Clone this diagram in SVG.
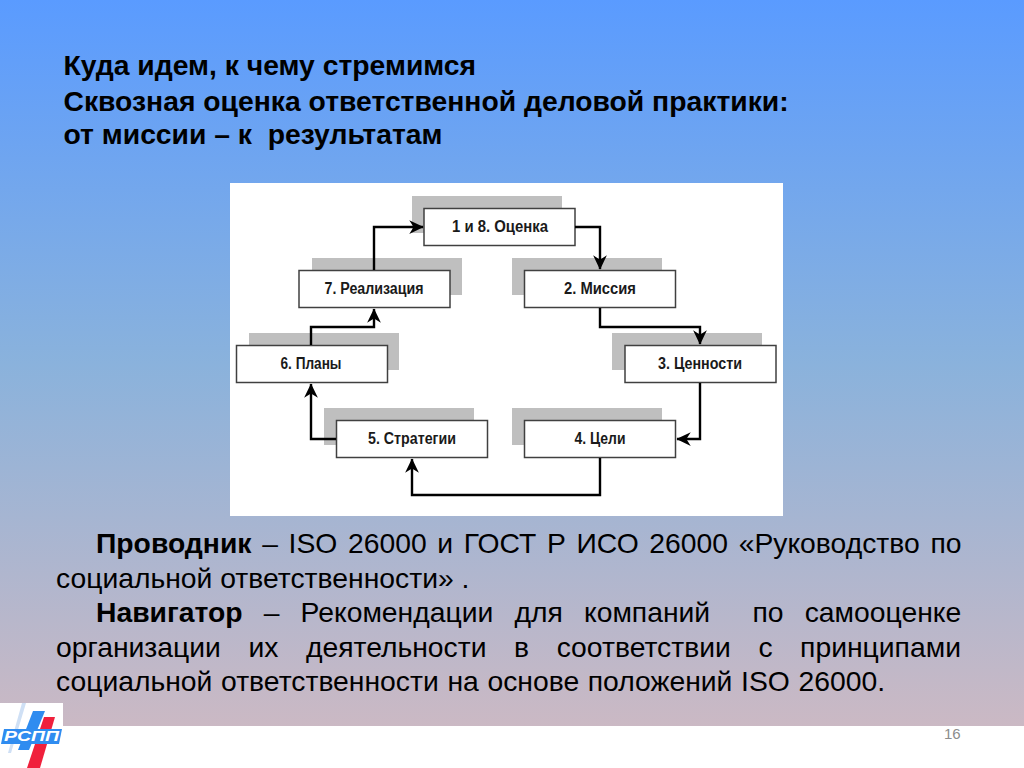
<svg xmlns="http://www.w3.org/2000/svg" width="1024" height="768" viewBox="0 0 1024 768">
<defs>
<linearGradient id="bg" x1="0" y1="0" x2="0" y2="1"><stop offset="0" stop-color="#5a9bff"/><stop offset="0.5" stop-color="#8ab2dc"/><stop offset="1" stop-color="#cbb9c4"/></linearGradient>
<marker id="arr" viewBox="0 0 12 12" refX="11" refY="6" markerWidth="15" markerHeight="15" markerUnits="userSpaceOnUse" orient="auto"><path d="M0 0.5L11.5 6L0 11.5L3.5 6Z" fill="#000"/></marker>
</defs>
<style>
.t{font-family:"Liberation Sans",Arial,sans-serif;font-size:28.3px;fill:#000}
.h{font-family:"Liberation Sans",Arial,sans-serif;font-size:28.3px;font-weight:bold;fill:#000}
.b{font-weight:bold}
.s{fill:#bfbfbf}
.n{fill:#fff;stroke:#404040;stroke-width:1.5}
.l{font-family:"Liberation Sans",Arial,sans-serif;font-size:16px;font-weight:bold;fill:#1a1a1a;text-anchor:middle}
.c{fill:none;stroke:#000;stroke-width:2.4}
</style>
<rect x="0" y="0" width="1024" height="726" fill="url(#bg)"/>
<rect x="0" y="726" width="1024" height="42" fill="#fff"/>
<g id="title">
<text class="h" x="63.500" y="75">Куда идем, к чему стремимся</text>
<text class="h" x="63.500" y="111">Сквозная оценка ответственной деловой практики:</text>
<text class="h" x="63.500" y="144" xml:space="preserve">от миссии – к  результатам</text>
</g>
<rect x="230" y="183" width="553" height="333" fill="#fff"/>
<g id="n1"><rect class="s" x="412" y="196" width="150" height="37"/><rect class="n" x="424" y="208.500" width="151" height="37"/><text class="l" x="500" y="232" textLength="96" lengthAdjust="spacingAndGlyphs">1 и 8. Оценка</text></g>
<g id="n2"><rect class="s" x="512" y="258" width="150" height="37"/><rect class="n" x="524.500" y="270.500" width="151" height="37"/><text class="l" x="600" y="294" textLength="72" lengthAdjust="spacingAndGlyphs">2. Миссия</text></g>
<g id="n3"><rect class="s" x="612" y="333" width="150" height="37"/><rect class="n" x="625" y="345.500" width="151" height="37"/><text class="l" x="700" y="369" textLength="84" lengthAdjust="spacingAndGlyphs">3. Ценности</text></g>
<g id="n4"><rect class="s" x="512" y="408" width="150" height="37"/><rect class="n" x="524.500" y="420.500" width="151" height="37"/><text class="l" x="600" y="444" textLength="51" lengthAdjust="spacingAndGlyphs">4. Цели</text></g>
<g id="n5"><rect class="s" x="324" y="408" width="150" height="37"/><rect class="n" x="336.500" y="420.500" width="151" height="37"/><text class="l" x="412" y="444" textLength="88" lengthAdjust="spacingAndGlyphs">5. Стратегии</text></g>
<g id="n6"><rect class="s" x="249" y="333" width="150" height="37"/><rect class="n" x="236.500" y="345.500" width="151" height="37"/><text class="l" x="311" y="369" textLength="61" lengthAdjust="spacingAndGlyphs">6. Планы</text></g>
<g id="n7"><rect class="s" x="312" y="258" width="150" height="37"/><rect class="n" x="299" y="270.500" width="151" height="37"/><text class="l" x="374" y="294" textLength="99" lengthAdjust="spacingAndGlyphs">7. Реализация</text></g>
<g id="connectors">
<path class="c" marker-end="url(#arr)" d="M374 270V227H423"/>
<path class="c" marker-end="url(#arr)" d="M575 227H600V269"/>
<path class="c" marker-end="url(#arr)" d="M600 308V327H700V344"/>
<path class="c" marker-end="url(#arr)" d="M700 383V439H677"/>
<path class="c" marker-end="url(#arr)" d="M600 458V495H412V459"/>
<path class="c" marker-end="url(#arr)" d="M336 439H311V384"/>
<path class="c" marker-end="url(#arr)" d="M311 345V327H374V309"/>
</g>
<g id="body">
<text class="t" x="96" y="553" word-spacing="2.8"><tspan class="b">Проводник</tspan> – ISO 26000 и ГОСТ Р ИСО 26000 «Руководство по</text>
<text class="t" x="56" y="588">социальной ответственности» .</text>
<text class="t" x="96" y="622" xml:space="preserve" word-spacing="13.3"><tspan class="b">Навигатор</tspan> – Рекомендации для компаний  по самооценке</text>
<text class="t" x="56" y="657" word-spacing="19.7">организации их деятельности в соответствии с принципами</text>
<text class="t" x="56" y="691" word-spacing="0.8">социальной ответственности на основе положений ISO 26000.</text>
</g>
<g id="logo">
<rect x="0" y="703" width="63" height="65" fill="#fff"/>
<path d="M22 703H26L11 753H8Z" fill="#cfe0f5"/>
<path d="M33 711H45L29 750H18Z" fill="#2f8cf0"/>
<path d="M44 717H55L40 768H27Z" fill="#f0203c"/>
<path d="M4 729H62L59 744H1Z" fill="#2f8cf0"/>
<text x="4" y="741" font-family="Liberation Sans,sans-serif" font-size="15" font-weight="bold" font-style="italic" fill="#fff" textLength="55" lengthAdjust="spacingAndGlyphs">РСПП</text>
</g>
<text id="page" x="944" y="739" font-family="Liberation Sans,sans-serif" font-size="15" fill="#8c8c8c">16</text>
</svg>
